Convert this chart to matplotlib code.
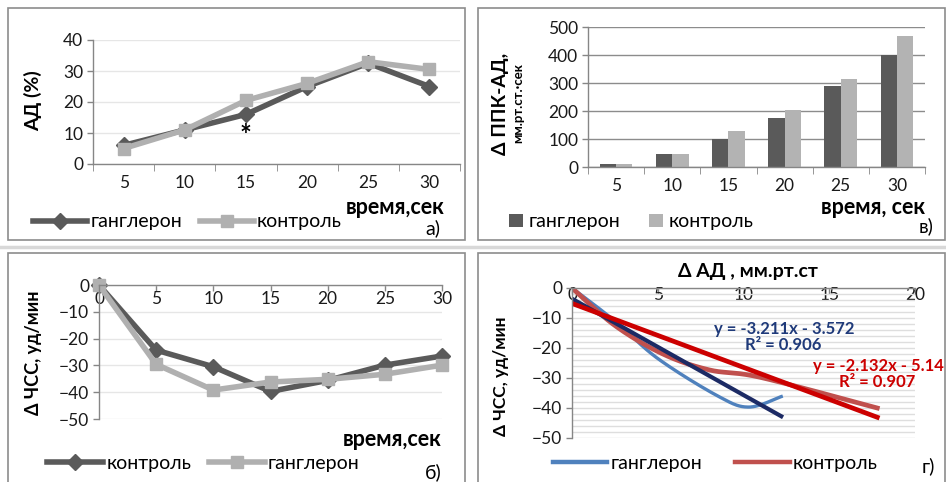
import matplotlib

matplotlib.use("Agg")

import matplotlib.pyplot as plt
import numpy as np
from matplotlib.lines import Line2D
from matplotlib.patches import Rectangle

plt.rcParams["font.family"] = ["Lato", "DejaVu Sans"]

W, H = 946, 482

# а) АД, % по времени
times_a = ["5", "10", "15", "20", "25", "30"]
ad_gangleron = [6, 11, 16, 25, 32.5, 25]
ad_control = [5, 11, 20.5, 26, 33, 30.5]

# в) Δ ППК-АД, мм.рт.ст.·сек
ppk_gangleron = [12, 46, 101, 176, 289, 399]
ppk_control = [11, 46, 129, 204, 316, 467]

# б) Δ ЧСС, уд/мин
times_b = [0, 5, 10, 15, 20, 25, 30]
hr_control = [0, -24.3, -30.5, -39.7, -35.6, -29.9, -26.5]
hr_gangleron = [0, -29.6, -39.2, -36.2, -35.2, -33.3, -29.9]

# г) Δ ЧСС против Δ АД
dad_gangleron = [0, 2.5, 5.0, 8.5, 10.3, 12.2]
dhr_gangleron = [0, -11, -23.5, -36, -39.7, -36.2]
dad_control = [0, 2.5, 5.3, 8.0, 11.0, 17.8]
dhr_control = [0, -12.5, -22, -27.3, -29.8, -40]
trend_gangleron = (-3.211, -3.572, 0.906)  # slope, intercept, R^2
trend_control = (-2.132, -5.14, 0.907)

DARK = "#5a5a5a"
LIGHT = "#b0b0b0"
AXIS = "#868686"
GRID = "#e6e6e6"
TICK_SIZE = 12.5


def axes_px(fig, left, top, right, bottom):
    return fig.add_axes([left / W, 1 - bottom / H, (right - left) / W, (bottom - top) / H])


def ftext(fig, px, py, s, **kw):
    return fig.text(px / W, 1 - py / H, s, **kw)


def smooth(x, y, n=40):
    # Catmull-Rom curve through the points, like Excel's smoothed line
    p = np.column_stack([x, y]).astype(float)
    p = np.vstack([p[0], p, p[-1]])
    t = np.linspace(0, 1, n)[:, None]
    segs = []
    for i in range(1, len(p) - 2):
        p0, p1, p2, p3 = p[i - 1], p[i], p[i + 1], p[i + 2]
        segs.append(0.5 * (2 * p1 + (-p0 + p2) * t
                           + (2 * p0 - 5 * p1 + 4 * p2 - p3) * t ** 2
                           + (-p0 + 3 * p1 - 3 * p2 + p3) * t ** 3))
    c = np.vstack(segs)
    return c[:, 0], c[:, 1]


def style_axes(ax):
    for side in ("top", "right"):
        ax.spines[side].set_visible(False)
    for side in ("left", "bottom"):
        ax.spines[side].set_color(AXIS)
        ax.spines[side].set_linewidth(1)
    ax.tick_params(colors=AXIS, labelcolor="#1a1a1a", labelsize=TICK_SIZE, width=1, length=4, pad=3)
    ax.set_axisbelow(True)


fig = plt.figure(figsize=(W / 100, H / 100), dpi=100)

# panel frames
for left, top, right, bottom in [(8, 8, 465, 240), (478, 8, 945, 240),
                                 (8, 253, 465, 490), (478, 253, 945, 490)]:
    fig.add_artist(Rectangle((left / W, 1 - bottom / H), (right - left) / W, (bottom - top) / H,
                             transform=fig.transFigure, fill=False, edgecolor="#8c8c8c", lw=1.2))
fig.add_artist(Line2D([0, 1], [1 - 247 / H] * 2, transform=fig.transFigure, color="#d8d8d8", lw=2.5))

# ---------- а) ----------
ax = axes_px(fig, 93, 40, 460, 164)
style_axes(ax)
xa = np.arange(len(times_a))
ax.plot(xa, ad_gangleron, color=DARK, lw=4, marker="D", ms=8, label="ганглерон")
ax.plot(xa, ad_control, color=LIGHT, lw=4, marker="s", ms=8, label="контроль")
ax.text(xa[2], ad_gangleron[2] - 7, "*", ha="center", va="center", fontsize=20, fontweight="bold")
ax.set_xlim(-0.5, len(times_a) - 0.5)
ax.set_ylim(0, 40)
ax.set_yticks(np.arange(0, 41, 10))
ax.set_xticks(xa, times_a)
ax.set_xticks(np.arange(-0.5, len(times_a), 1), minor=True)
ax.tick_params(axis="x", which="major", length=0, pad=8)
ax.tick_params(axis="x", which="minor", length=5, color=AXIS)
ax.grid(axis="y", color=GRID, lw=1)
fig.legend(*ax.get_legend_handles_labels(), loc="center left", bbox_to_anchor=(33 / W, 1 - 222 / H),
           ncol=2, frameon=False, fontsize=14, handlelength=2.8, handletextpad=0.15,
           columnspacing=0.9, borderpad=0, borderaxespad=0)
ftext(fig, 445, 207, "время,сек", ha="right", va="center", fontsize=15.5, fontweight="bold")
ftext(fig, 440, 228, "а)", ha="right", va="center", fontsize=14)
ftext(fig, 33, 101, "АД (%)", rotation=90, ha="center", va="center", fontsize=14, fontweight="bold")

# ---------- в) ----------
ax = axes_px(fig, 588, 27, 925, 167)
style_axes(ax)
xb = np.arange(len(times_a))
bw = 0.29
ax.bar(xb - bw / 2, ppk_gangleron, bw, color=DARK, label="ганглерон")
ax.bar(xb + bw / 2, ppk_control, bw, color="#b3b3b3", label="контроль")
ax.set_xlim(-0.5, len(times_a) - 0.5)
ax.set_ylim(0, 500)
ax.set_yticks(np.arange(0, 501, 100))
ax.set_xticks(xb, times_a)
ax.set_xticks(np.arange(-0.5, len(times_a), 1), minor=True)
ax.tick_params(axis="x", which="major", length=0, pad=8)
ax.tick_params(axis="x", which="minor", length=5, color=AXIS)
ax.grid(axis="y", color="#8c8c8c", lw=1)
fig.legend(*ax.get_legend_handles_labels(), loc="center left", bbox_to_anchor=(509 / W, 1 - 222 / H),
           ncol=2, frameon=False, fontsize=14, handlelength=0.7, handleheight=0.7,
           handletextpad=0.3, columnspacing=1.5, borderpad=0, borderaxespad=0)
ftext(fig, 925, 208, "время, сек", ha="right", va="center", fontsize=15.5, fontweight="bold")
ftext(fig, 933, 226, "в)", ha="right", va="center", fontsize=14)
ftext(fig, 500, 104, "Δ ППК-АД,", rotation=90, ha="center", va="center", fontsize=14, fontweight="bold")
ftext(fig, 518, 103, "мм.рт.ст.·сек", rotation=90, ha="center", va="center", fontsize=9.5, fontweight="bold")

# ---------- б) ----------
ax = axes_px(fig, 99, 285, 442, 419)
style_axes(ax)
ax.spines["bottom"].set_position(("data", 0))
ax.plot(times_b, hr_control, color=DARK, lw=4, marker="D", ms=8, label="контроль", clip_on=False)
ax.plot(times_b, hr_gangleron, color=LIGHT, lw=4, marker="s", ms=8, label="ганглерон", clip_on=False)
ax.set_xlim(0, 30)
ax.set_ylim(-50, 0)
ax.set_xticks(np.arange(0, 31, 5))
ax.set_yticks(np.arange(-50, 1, 10))
ax.tick_params(axis="x", pad=0)
ax.grid(axis="y", color=GRID, lw=1)
fig.legend(*ax.get_legend_handles_labels(), loc="center left", bbox_to_anchor=(47 / W, 1 - 463 / H),
           ncol=2, frameon=False, fontsize=14, handlelength=2.9, handletextpad=0.15,
           columnspacing=0.9, borderpad=0, borderaxespad=0)
ftext(fig, 442, 439, "время,сек", ha="right", va="center", fontsize=15.5, fontweight="bold")
ftext(fig, 442, 472, "б)", ha="right", va="center", fontsize=14)
ftext(fig, 34, 353, "Δ ЧСС, уд/мин", rotation=90, ha="center", va="center", fontsize=13, fontweight="bold")

# ---------- г) ----------
ax = axes_px(fig, 572, 288, 915, 438)
style_axes(ax)
ax.spines["bottom"].set_position(("data", 0))
gx, gy = smooth(dad_gangleron, dhr_gangleron)
cx, cy = smooth(dad_control, dhr_control)
ax.plot(gx, gy, color="#4f81bd", lw=2.4, label="ганглерон")
ax.plot(cx, cy, color="#c0504d", lw=3.4, label="контроль")
for xs, (k, b, r2), col, lw in [(dad_gangleron, trend_gangleron, "#1c2a64", 3.0),
                               (dad_control, trend_control, "#cc0000", 3.4)]:
    tx = np.array([min(xs), max(xs)])
    ax.plot(tx, k * tx + b, color=col, lw=lw)
ax.set_xlim(0, 20)
ax.set_ylim(-50, 0)
ax.set_xticks(np.arange(0, 21, 5))
ax.set_yticks(np.arange(-50, 1, 10))
ax.set_yticks(np.arange(-50, 1, 2), minor=True)
ax.tick_params(axis="y", which="minor", length=0)
ax.tick_params(axis="x", pad=-5)
ax.grid(axis="y", which="both", color="#dedede", lw=1)
handles, labels = ax.get_legend_handles_labels()
leg = fig.legend(handles, labels, loc="center left", bbox_to_anchor=(553 / W, 1 - 463 / H),
                 ncol=2, frameon=False, fontsize=14, handlelength=2.8, handletextpad=0.15,
                 columnspacing=1.7, borderpad=0, borderaxespad=0)
for line in leg.get_lines():
    line.set_linewidth(3.2)
ftext(fig, 748, 272, "Δ АД , мм.рт.ст", ha="center", va="center", fontsize=14, fontweight="bold")
k, b, r2 = trend_gangleron
ftext(fig, 784, 329, f"y = {k:.3f}x - {abs(b):.3f}", ha="center", va="center",
      fontsize=12, fontweight="bold", color="#1f3a7a")
ftext(fig, 783, 345, f"R² = {r2:.3f}", ha="center", va="center", fontsize=12, fontweight="bold", color="#1f3a7a")
k, b, r2 = trend_control
ftext(fig, 813, 366, f"y = {k:.3f}x - {abs(b):.2f}", ha="left", va="center",
      fontsize=12, fontweight="bold", color="#cc0000")
ftext(fig, 877, 382, f"R² = {r2:.3f}", ha="center", va="center", fontsize=12, fontweight="bold", color="#cc0000")
ftext(fig, 935, 466, "г)", ha="right", va="center", fontsize=14)
ftext(fig, 501, 376, "Δ ЧСС, уд/мин", rotation=90, ha="center", va="center", fontsize=12.5, fontweight="bold")

fig.savefig("out.png", dpi=100)
